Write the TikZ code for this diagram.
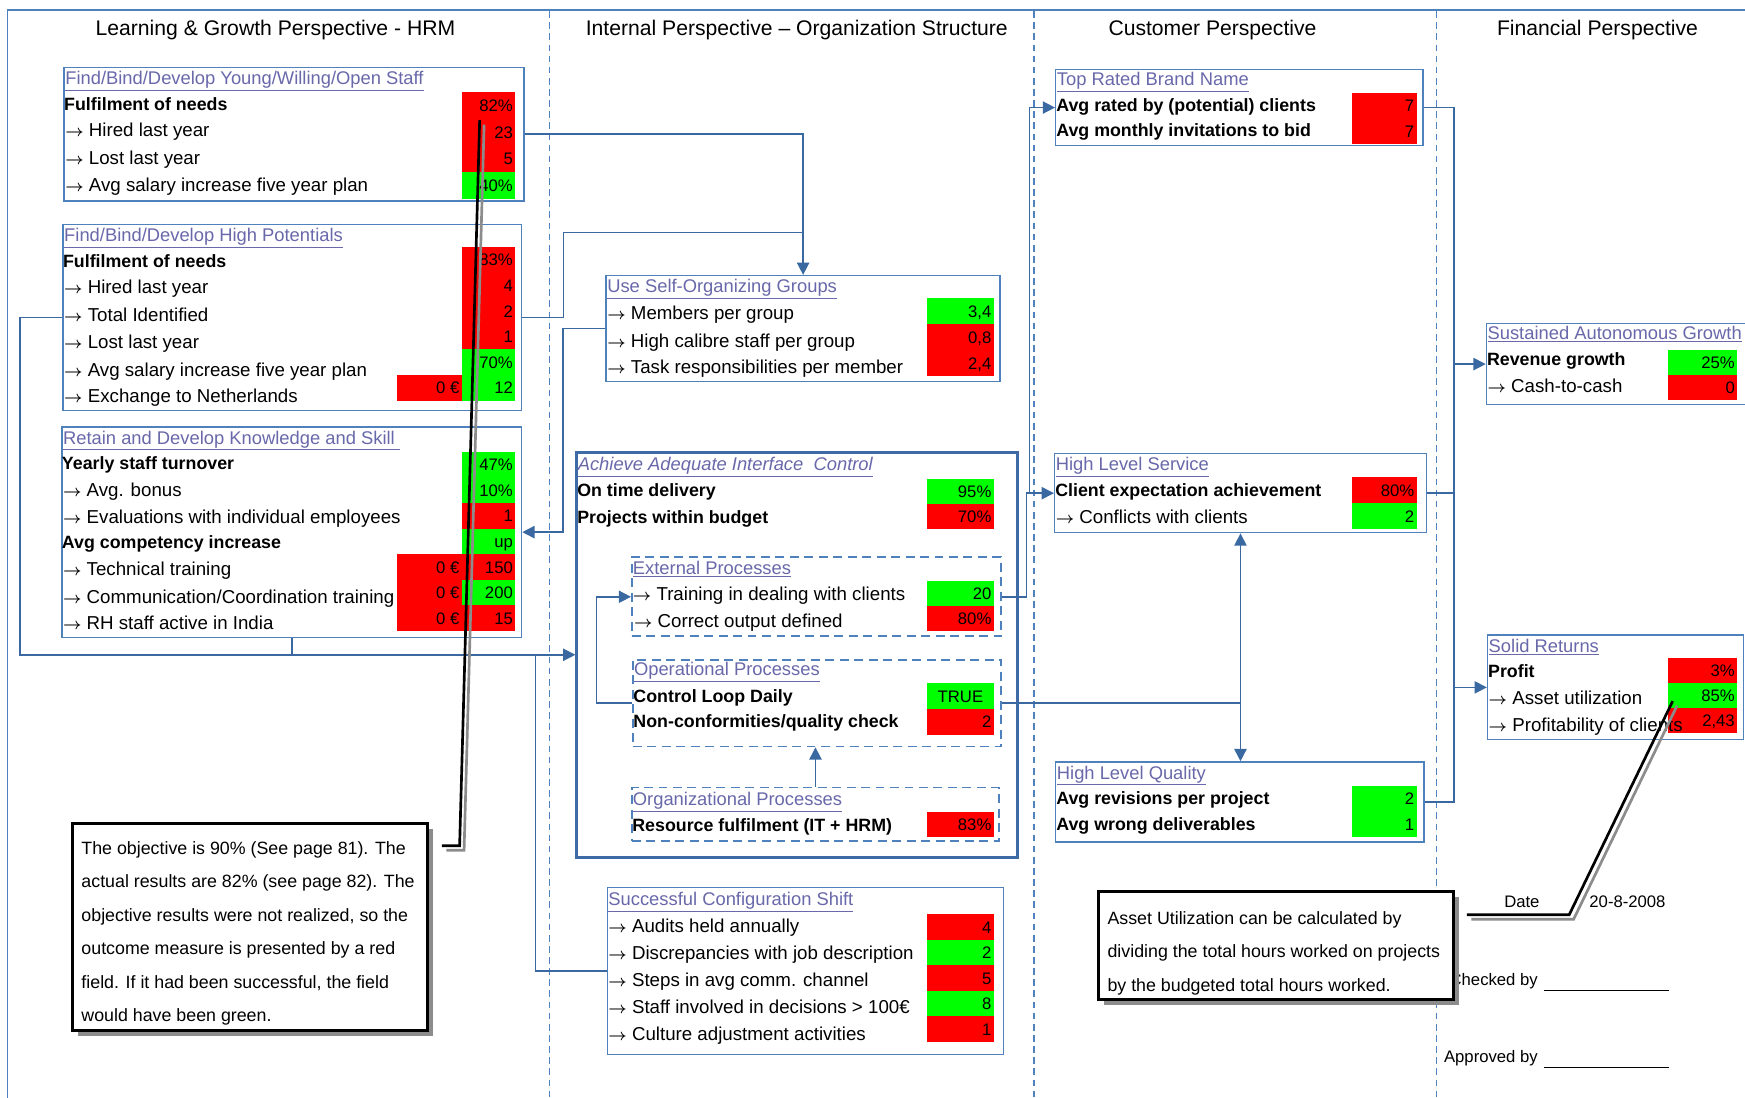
\documentclass[tikz,border=0pt]{standalone}
\usepackage{fontspec}
\setmainfont{Liberation Sans}
\usetikzlibrary{arrows.meta,shadows}

\definecolor{frameblue}{RGB}{79,129,189}
\definecolor{boxdark}{RGB}{62,106,165}
\definecolor{connblue}{RGB}{58,104,160}
\definecolor{linkcol}{RGB}{104,104,170}
\definecolor{kred}{RGB}{255,0,0}
\definecolor{kgreen}{RGB}{0,255,0}
\definecolor{shadegrey}{RGB}{140,140,140}

\newcommand\bodyfont{\fontsize{16.8}{19}\selectfont}
\newcommand\boldfont{\fontsize{16}{19}\selectfont\bfseries}
\newcommand\kto{{\fontsize{14.5}{16}\selectfont\boldmath$\rightarrow$}\ }
% row label, bold row label, underlined box title
\newcommand\rowlab[4]{\node[lbl] (#1) at (#2,#3) {#4};}
\newcommand\rowbold[4]{\node[lbl,font=\boldfont] (#1) at (#2,#3) {#4};}
\newcommand\boxtitle[4]{\node[ttl] (#1) at (#2,#3) {\underline{#4}};}
% coloured value cell: name, colour, x, top, width, height, value
\newcommand\kpival[7]{\fill[#2] (#3,#4) rectangle ++(#5,#6);
  \node[vtxt] (#1) at ({#3+#5-2},{#4+#6/2}) {#7};}

\tikzset{
  box/.style={draw=frameblue, line width=1.3pt, anchor=north west, inner sep=0pt, rectangle},
  dbox/.style={box, dash pattern=on 8pt off 5pt, line width=1.5pt},
  bigbox/.style={box, draw=boxdark, line width=2.7pt},
  conn/.style={draw=connblue, line width=1.4pt},
  endtip/.style={-{Triangle[length=11pt,width=11pt]}},
  divider/.style={draw=frameblue, line width=1.3pt, dash pattern=on 6pt off 4pt},
  lbl/.style={anchor=west, inner sep=0pt, text height=11pt, text depth=1pt, font=\bodyfont},
  ttl/.style={anchor=west, inner sep=0pt, text height=11pt, text depth=1pt, text=linkcol, font=\fontsize{16.5}{19}\selectfont},
  vtxt/.style={anchor=east, inner sep=0pt, text height=11pt, text depth=0pt, font=\fontsize{15}{17}\selectfont},
  hdr/.style={inner sep=0pt, text height=13.6pt, text depth=0pt, font=\fontsize{19}{22}\selectfont},
  notebox/.style={draw=black, line width=2.6pt, fill=white, anchor=north west, inner sep=0pt,
    drop shadow={shadow xshift=5pt, shadow yshift=-5pt, fill=shadegrey, opacity=1}},
  notetxt/.style={anchor=north west, inner sep=0pt, align=left, font=\fontsize{16}{30}\selectfont},
  smalltxt/.style={inner sep=0pt, text height=11pt, text depth=0pt, font=\fontsize{15}{17}\selectfont},
  pointer/.style={line width=2.4pt},
  sigline/.style={draw=black, line width=1pt}
}

\begin{document}
\begin{tikzpicture}[x=1pt,y=-1pt]
\useasboundingbox (0,0) rectangle (1568,986);
\clip (0,0) rectangle (1568,986);
\fill[white] (0,0) rectangle (1568,986);

% outer frame and perspective dividers
\draw[draw=frameblue, line width=1.2pt] (7,990) -- (7,9) -- (1575,9);
\draw[divider] (494,10) -- (494,990);
\draw[divider] (929,10) -- (929,990);
\draw[divider] (1291,10) -- (1291,990);

% perspective headings
\node[hdr] (h1) at (247.5,25) {Learning \& Growth Perspective - HRM};
\node[hdr] (h2) at (716,25) {Internal Perspective – Organization Structure};
\node[hdr] (h3) at (1089.5,25) {Customer Perspective};
\node[hdr] (h4) at (1435.5,25) {Financial Perspective};

% ---------------- Learning & Growth ----------------
\node[box, minimum width=413pt, minimum height=120pt] (A) at (57,60) {};
\kpival{vA1}{kred}{415}{82.5}{48}{24}{82\%}
\kpival{vA2}{kred}{415}{106.5}{48}{24}{23}
\kpival{vA3}{kred}{415}{130.5}{48}{24}{5}
\kpival{vA4}{kgreen}{415}{154.5}{48}{24}{40\%}
\boxtitle{At}{58.5}{71}{Find/Bind/Develop Young/Willing/Open Staff}
\rowbold{A1}{57.5}{94}{Fulfilment of needs}
\rowlab{A2}{58.5}{118}{\kto Hired last year}
\rowlab{A3}{58.5}{143}{\kto Lost last year}
\rowlab{A4}{58.5}{167}{\kto Avg salary increase five year plan}

\node[box, minimum width=412pt, minimum height=167pt] (B) at (56,201) {};
\kpival{vB1}{kred}{415}{222}{48}{23}{83\%}
\kpival{vB2}{kred}{415}{245}{48}{23}{4}
\kpival{vB3}{kred}{415}{268}{48}{23}{2}
\kpival{vB4}{kred}{415}{291}{48}{23}{1}
\kpival{vB5}{kgreen}{415}{314}{48}{23}{70\%}
\kpival{vB6}{kgreen}{415}{337}{48}{23}{12}
\kpival{vB7}{kred}{357}{337}{58}{23}{0 €}
\boxtitle{Bt}{57.5}{212}{Find/Bind/Develop High Potentials}
\rowbold{B1}{56.5}{235}{Fulfilment of needs}
\rowlab{B2}{57.5}{259}{\kto Hired last year}
\rowlab{B3}{57.5}{284}{\kto Total Identified}
\rowlab{B4}{57.5}{308}{\kto Lost last year}
\rowlab{B5}{57.5}{333}{\kto Avg salary increase five year plan}
\rowlab{B6}{57.5}{357}{\kto Exchange to Netherlands}

\node[box, minimum width=413pt, minimum height=189pt] (C) at (55,383) {};
\kpival{vC1}{kgreen}{415}{406}{48}{23}{47\%}
\kpival{vC2}{kgreen}{415}{429}{48}{23}{10\%}
\kpival{vC3}{kred}{415}{452}{48}{23}{1}
\kpival{vC4}{kgreen}{415}{475}{48}{23}{up}
\kpival{vC5}{kred}{415}{498}{48}{23}{150}
\kpival{vC6}{kgreen}{415}{521}{48}{23}{200}
\kpival{vC7}{kred}{415}{544}{48}{23}{15}
\kpival{vC8}{kred}{357}{498}{58}{23}{0 €}
\kpival{vC9}{kred}{357}{521}{58}{23}{0 €}
\kpival{vC10}{kred}{357}{544}{58}{23}{0 €}
\boxtitle{Ct}{56.5}{394}{Retain and Develop Knowledge and Skill\ }
\rowbold{C1}{55.5}{417}{Yearly staff turnover}
\rowlab{C2}{56.5}{441}{\kto Avg. bonus}
\rowlab{C3}{56.5}{465}{\kto Evaluations with individual employees}
\rowbold{C4}{55.5}{488}{Avg competency increase}
\rowlab{C5}{56.5}{512}{\kto Technical training}
\rowlab{C6}{56.5}{537}{\kto Communication/Coordination training}
\rowlab{C7}{56.5}{561}{\kto RH staff active in India}

% ---------------- Internal ----------------
\node[box, minimum width=354pt, minimum height=95pt] (D) at (544,247) {};
\kpival{vD1}{kgreen}{833}{268}{60}{23.3}{3,4}
\kpival{vD2}{kred}{833}{291.3}{60}{23.3}{0,8}
\kpival{vD3}{kred}{833}{314.6}{60}{23.3}{2,4}
\boxtitle{Dt}{545.5}{258}{Use Self-Organizing Groups}
\rowlab{D1}{545.5}{282}{\kto Members per group}
\rowlab{D2}{545.5}{307}{\kto High calibre staff per group}
\rowlab{D3}{545.5}{331}{\kto Task responsibilities per member}

\node[bigbox, minimum width=396pt, minimum height=364pt] (E) at (517,405) {};
\kpival{vE1}{kgreen}{833}{430}{60}{22.5}{95\%}
\kpival{vE2}{kred}{833}{452.5}{60}{22.5}{70\%}
\node[ttl, font=\fontsize{16.5}{19}\selectfont\itshape] (Et) at (519,418) {\underline{Achieve Adequate Interface\ \ Control}};
\rowbold{E1}{518.5}{441}{On time delivery}
\rowbold{E2}{518.5}{465}{Projects within budget}

\node[dbox, minimum width=332pt, minimum height=71pt] (F) at (567,500) {};
\kpival{vF1}{kgreen}{833}{522}{60}{22.5}{20}
\kpival{vF2}{kred}{833}{544.5}{60}{22.5}{80\%}
\boxtitle{Ft}{568.5}{511}{External Processes}
\rowlab{F1}{568.5}{535}{\kto Training in dealing with clients}
\rowlab{F2}{569.5}{559}{\kto Correct output defined}

\node[dbox, minimum width=331pt, minimum height=78pt] (G) at (568,592) {};
\fill[kgreen] (833,614) rectangle ++(60,23);
\node[vtxt, anchor=center] (vG1) at (863,625.5) {TRUE};
\kpival{vG2}{kred}{833}{637}{60}{23}{2}
\boxtitle{Gt}{569.5}{602}{Operational Processes}
\rowbold{G1}{569}{626}{Control Loop Daily}
\rowbold{G2}{569}{649}{Non-conformities/quality check}

\node[dbox, minimum width=330pt, minimum height=48pt] (H) at (567,707) {};
\kpival{vH1}{kred}{833}{729.5}{60}{22.5}{83\%}
\boxtitle{Ht}{568.5}{719}{Organizational Processes}
\rowbold{H1}{568}{742}{Resource fulfilment (IT + HRM)}

\node[box, minimum width=356pt, minimum height=150pt] (I) at (545,797) {};
\kpival{vI1}{kred}{833}{821.5}{60}{22.9}{4}
\kpival{vI2}{kgreen}{833}{844.4}{60}{22.9}{2}
\kpival{vI3}{kred}{833}{867.3}{60}{22.9}{5}
\kpival{vI4}{kgreen}{833}{890.2}{60}{22.9}{8}
\kpival{vI5}{kred}{833}{913.1}{60}{22.9}{1}
\boxtitle{It}{546.5}{809}{Successful Configuration Shift}
\rowlab{I1}{546.5}{833}{\kto Audits held annually}
\rowlab{I2}{546.5}{857}{\kto Discrepancies with job description}
\rowlab{I3}{546.5}{881}{\kto Steps in avg comm. channel}
\rowlab{I4}{546.5}{906}{\kto Staff involved in decisions > 100€}
\rowlab{I5}{546.5}{930}{\kto Culture adjustment activities}

% ---------------- Customer ----------------
\node[box, minimum width=330pt, minimum height=68pt] (J) at (948,62) {};
\kpival{vJ1}{kred}{1215}{83.5}{58}{23}{7}
\kpival{vJ2}{kred}{1215}{106.5}{58}{23}{7}
\boxtitle{Jt}{949.5}{72}{Top Rated Brand Name}
\rowbold{J1}{949}{95}{Avg rated by (potential) clients}
\rowbold{J2}{949}{118}{Avg monthly invitations to bid}

\node[box, minimum width=334pt, minimum height=71pt] (K) at (947,407) {};
\kpival{vK1}{kred}{1215}{429}{58}{23.2}{80\%}
\kpival{vK2}{kgreen}{1215}{452.2}{58}{23.2}{2}
\boxtitle{Kt}{948.5}{418}{High Level Service}
\rowbold{K1}{948}{441}{Client expectation achievement}
\rowlab{K2}{948.5}{465}{\kto Conflicts with clients}

\node[box, minimum width=331pt, minimum height=72pt] (L) at (948,684) {};
\kpival{vL1}{kgreen}{1215}{706}{58}{23}{2}
\kpival{vL2}{kgreen}{1215}{729}{58}{23}{1}
\boxtitle{Lt}{949.5}{695}{High Level Quality}
\rowbold{L1}{949}{718}{Avg revisions per project}
\rowbold{L2}{949}{741}{Avg wrong deliverables}

% ---------------- Financial ----------------
\node[box, minimum width=245pt, minimum height=73pt] (M) at (1335,290) {};
\kpival{vM1}{kgreen}{1499}{314.5}{62}{22.5}{25\%}
\kpival{vM2}{kred}{1499}{337}{62}{22.5}{0}
\boxtitle{Mt}{1336.5}{300}{Sustained Autonomous Growth}
\rowbold{M1}{1336}{323}{Revenue growth}
\rowlab{M2}{1336.5}{348}{\kto Cash-to-cash}

\node[box, minimum width=230pt, minimum height=94pt] (N) at (1336,570) {};
\kpival{vN1}{kred}{1499}{591}{62}{22.6}{3\%}
\kpival{vN2}{kgreen}{1499}{613.6}{62}{22.6}{85\%}
\kpival{vN3}{kred}{1499}{636.2}{62}{22.6}{2,43}
\boxtitle{Nt}{1337.5}{581}{Solid Returns}
\rowbold{N1}{1337}{604}{Profit}
\rowlab{N2}{1337.5}{628}{\kto Asset utilization}
\rowlab{N3}{1337.5}{652}{\kto Profitability of clients}

% ---------------- connectors ----------------
\draw[conn,endtip] (A.east) -| (D.north);
\path (D.north) ++(0,-38) coordinate (dj);
\draw[conn] (B.east) -- ++(37,0) |- (dj);
\draw[conn,endtip] (D.west) -- ++(-38,0) |- (C.east);
\draw[conn,endtip] (B.west) -- ++(-38,0) |- (E.west);
\draw[conn] (C.south) -- (C.south |- E.west);
\path (E.west) ++(-36,0) coordinate (ej);
\draw[conn] (ej) |- (I.west);
\draw[conn,endtip] (G.west) -- ++(-32,0) |- (F.west);
\draw[conn,endtip] (H.north) -- (H.north |- G.south);
\draw[conn,endtip] (F.east) -- ++(22,0) |- (K.west);
\draw[conn,endtip] ([xshift=-22pt]K.west) |- (J.west);
\path (G.east -| K.south) coordinate (gq);
\draw[conn] (G.east) -- (gq);
\draw[conn,endtip] (gq) -- (K.south);
\draw[conn,endtip] (gq) -- (gq |- L.north);
\path (J.east) ++(27,0) coordinate (fin);
\draw[conn] (J.east) -- (fin) |- (L.east);
\draw[conn] (K.east) -- (K.east -| fin);
\draw[conn,endtip] (M.west -| fin) -- (M.west);
\draw[conn,endtip] (N.west -| fin) -- (N.west);

% ---------------- sign-off fields ----------------
\node[smalltxt] (datelab) at (1367.5,810) {Date};
\node[smalltxt, anchor=west] (dateval) at (1428,810) {20-8-2008};
\node[smalltxt, anchor=east] (chk) at (1382,880) {Checked by};
\node[smalltxt, anchor=east] (apv) at (1382,949) {Approved by};
\draw[sigline] ([xshift=5pt,yshift=-4.5pt]chk.base east) -- ++(113,0);
\draw[sigline] ([xshift=5pt,yshift=-4.5pt]apv.base east) -- ++(113,0);

% ---------------- notes with pointers ----------------
\node[notebox, minimum width=319pt, minimum height=186pt] (note1) at (64,739) {};
\node[notetxt] (note1text) at (73,756) {The objective is 90\% (See page 81). The\\actual results are 82\% (see page 82). The\\objective results were not realized, so the\\outcome measure is presented by a red\\field. If it had been successful, the field\\would have been green.};
\coordinate (p1a) at (397,760);
\coordinate (p1b) at (413,760);
\coordinate (p1c) at (431,108);
\draw[pointer, shadegrey] ([shift={(4,4)}]p1a) -- ([shift={(4,4)}]p1b) -- ([shift={(4,4)}]p1c);
\draw[pointer, black] (p1a) -- (p1b) -- (p1c);

\node[notebox, minimum width=319pt, minimum height=97pt] (note2) at (986,800) {};
\node[notetxt] (note2text) at (995,819) {Asset Utilization can be calculated by\\dividing the total hours worked on projects\\by the budgeted total hours worked.};
\coordinate (p2a) at (1318,822);
\coordinate (p2b) at (1410,822);
\coordinate (p2c) at (1503,630);
\draw[pointer, shadegrey] ([shift={(4,4)}]p2a) -- ([shift={(4,4)}]p2b) -- ([shift={(4,4)}]p2c);
\draw[pointer, black] (p2a) -- (p2b) -- (p2c);
\end{tikzpicture}
\end{document}
